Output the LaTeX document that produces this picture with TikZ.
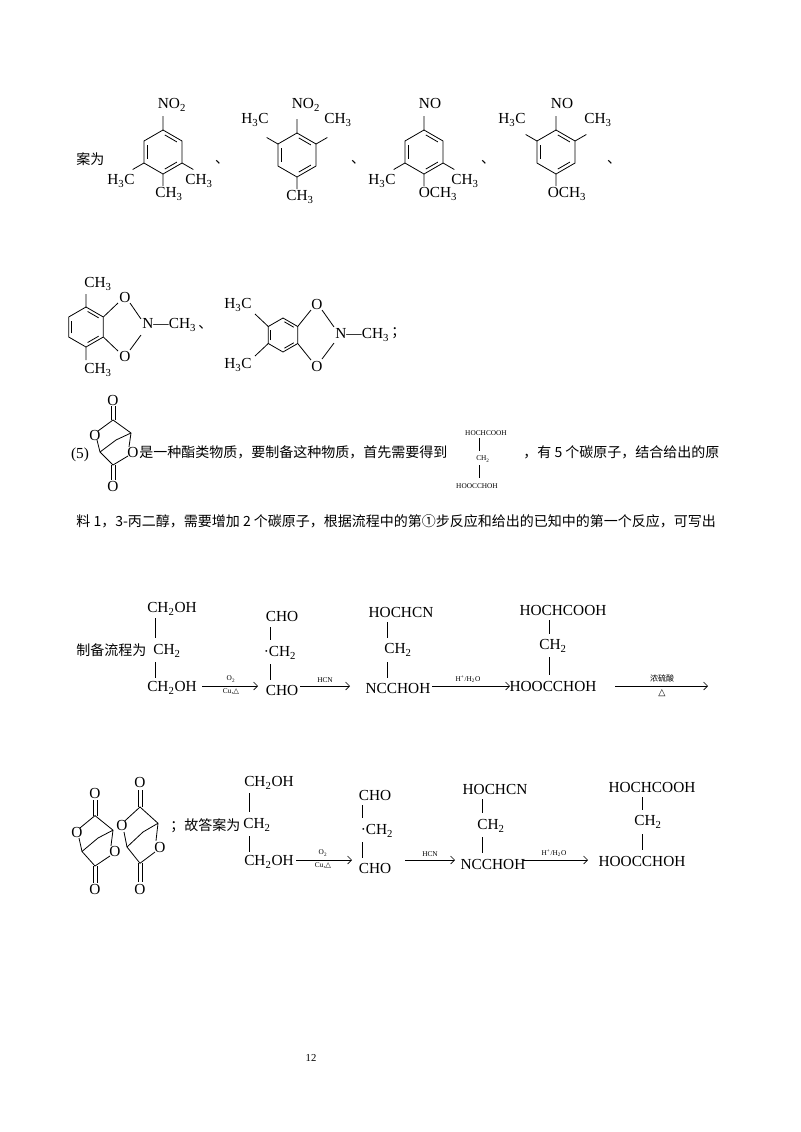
\documentclass[tikz,border=0pt]{standalone}
\usepackage{fontspec}
\setmainfont{Liberation Serif}
\newfontfamily\cjk{Noto Sans CJK SC}
\newfontfamily\dv{DejaVu Sans}
\usetikzlibrary{arrows.meta}
\newcommand\benz[3]{%
\begin{scope}[shift={(#1,#2)}]
\draw (90:#3)--(150:#3)--(210:#3)--(270:#3)--(330:#3)--(30:#3)--cycle;
\draw (36:{0.78*#3})--(84:{0.78*#3});
\draw (156:{0.78*#3})--(204:{0.78*#3});
\draw (276:{0.78*#3})--(324:{0.78*#3});
\end{scope}}
\newcommand\bicyc[4]{%
\begin{scope}[shift={(#1,#2)},xscale=#3,yscale=#4]
\coordinate (O1) at (0,-40); \coordinate (A) at (0,-20); \coordinate (B) at (18,-7);
\coordinate (C) at (-13,12); \coordinate (D) at (0,25); \coordinate (O2) at (0,46);
\coordinate (Oa) at (-18,-5); \coordinate (Ob) at (20,12); \coordinate (M) at (3,0);
\node[at=(O1),lab] {O}; \node[at=(O2),lab] {O};
\node[at=(Oa),lab] {O}; \node[at=(Ob),lab] {O};
\draw (-15,-9)--(A)--(B)--(16,7);
\draw (-2,-20)--(-2,-34) (2,-20)--(2,-34);
\draw (-2,25)--(-2,40) (2,25)--(2,40);
\draw (-16,0)--(C)--(D)--(15,16);
\draw (C)--(M)--(B);
\end{scope}}
\begin{document}
\begin{tikzpicture}[x=0.75pt,y=-0.75pt,line width=0.6pt,
  lab/.style={font=\fontsize{11.5}{13}\selectfont,inner sep=0},
  cn/.style={font=\cjk\fontsize{10.5}{12}\selectfont,inner sep=0},
  sm/.style={font=\fontsize{5.5}{6}\selectfont,inner sep=0},
  rx/.style={-{Straight Barb[length=3pt]},line width=0.5pt}]
\useasboundingbox[fill=white] (0,0) rectangle (800,1132);
% row 1
\node[cn,anchor=west] (t1) at (76,159) {案为};
\benz{163}{152}{22}
\begin{scope}[shift={(163,152)}]
\draw (270:22)--(270:36) (150:22)--(150:35) (90:22)--(90:34) (30:22)--(30:35);
\node[lab] at (9,-47) {NO\textsubscript{2}};
\node[lab] at (-42,29) {H\textsubscript{3}C};
\node[lab] at (6,42) {CH\textsubscript{3}};
\node[lab] at (36,29) {CH\textsubscript{3}};
\end{scope}
\node[cn] at (222,162) {、};
\benz{297}{155}{22}
\begin{scope}[shift={(297,155)}]
\draw (270:22)--(270:36) (210:22)--(210:35) (330:22)--(330:35) (90:22)--(90:34);
\node[lab] at (9,-50) {NO\textsubscript{2}};
\node[lab] at (-42,-35) {H\textsubscript{3}C};
\node[lab] at (41,-35) {CH\textsubscript{3}};
\node[lab] at (3,42) {CH\textsubscript{3}};
\end{scope}
\node[cn] at (358,162) {、};
\benz{424}{152}{22}
\begin{scope}[shift={(424,152)}]
\draw (270:22)--(270:36) (150:22)--(150:35) (90:22)--(90:34) (30:22)--(30:35);
\node[lab] at (6,-49) {NO};
\node[lab] at (-42,29) {H\textsubscript{3}C};
\node[lab] at (14,42) {OCH\textsubscript{3}};
\node[lab] at (41,29) {CH\textsubscript{3}};
\end{scope}
\node[cn] at (488,162) {、};
\benz{556}{152}{22}
\begin{scope}[shift={(556,152)}]
\draw (270:22)--(270:36) (210:22)--(210:35) (330:22)--(330:35) (90:22)--(90:34);
\node[lab] at (6,-49) {NO};
\node[lab] at (-44,-32) {H\textsubscript{3}C};
\node[lab] at (42,-32) {CH\textsubscript{3}};
\node[lab] at (11,42) {OCH\textsubscript{3}};
\end{scope}
\node[cn] at (614,162) {、};
% row 2
\benz{86}{327}{20}
\begin{scope}[shift={(86,327)}]
\draw (270:20)--(270:33) (90:20)--(90:33) (330:20)--(32,-24) (30:20)--(32,24);
\draw (44,-24)--(55,-8) (44,23)--(55,8);
\node[lab] at (12,-43) {CH\textsubscript{3}};
\node[lab] at (12,43) {CH\textsubscript{3}};
\node[lab] at (39,-30) {O};
\node[lab] at (39,29) {O};
\node[lab,anchor=west] at (56,-2) {N—CH\textsubscript{3}};
\node[cn,anchor=west] at (112,0) {、};
\end{scope}
\benz{283}{335}{17}
\begin{scope}[shift={(283,335)}]
\draw (210:17)--(-28,-21) (150:17)--(-28,21) (330:17)--(28,-25) (30:17)--(28,25);
\draw (39,-25)--(51,-8) (39,24)--(51,8);
\node[lab] at (-45,-30) {H\textsubscript{3}C};
\node[lab] at (-45,30) {H\textsubscript{3}C};
\node[lab] at (34,-31) {O};
\node[lab] at (34,31) {O};
\node[lab,anchor=west] at (52,0) {N—CH\textsubscript{3}};
\node[cn,anchor=west] at (108,-2) {；};
\end{scope}
% row 3
\bicyc{113}{440}{1}{1}
\node[lab] at (80,455) {(5)};
\node[cn,anchor=west] at (139,452) {是一种酯类物质，要制备这种物质，首先需要得到};
\node[sm] at (486,433) {HOCHCOOH};
\draw[line width=0.4pt] (479,438)--(479,451) (479,465)--(479,478);
\node[sm] at (483,459) {CH\textsubscript{2}};
\node[sm] at (477,486) {HOOCCHOH};
\node[cn,anchor=west] at (523,452) {，有 5 个碳原子，结合给出的原};
\node[cn,anchor=west] at (76,521) {料 1，3-丙二醇，需要增加 2 个碳原子，根据流程中的第①步反应和给出的已知中的第一个反应，可写出};
% scheme 1
\node[cn,anchor=west] at (76,650) {制备流程为};
\node[lab] at (172,609) {CH\textsubscript{2}OH};
\node[lab] at (167,651) {CH\textsubscript{2}};
\node[lab] at (172,688) {CH\textsubscript{2}OH};
\draw[line width=0.4pt] (155,618)--(155,638) (155,662)--(155,678);
\draw[rx] (202,686)--(258,686);
\node[sm] at (231,679) {O\textsubscript{2}};
\node[sm] at (231,692) {Cu,{\dv △}};
\node[lab] at (282,616) {CHO};
\node[lab] at (280,653) {·CH\textsubscript{2}};
\node[lab] at (282,690) {CHO};
\draw[line width=0.4pt] (270,627)--(270,640) (270,664)--(270,680);
\draw[rx] (300,686)--(350,686);
\node[sm] at (325,680) {HCN};
\node[lab] at (401,612) {HOCHCN};
\node[lab] at (398,650) {CH\textsubscript{2}};
\node[lab] at (398,688) {NCCHOH};
\draw[line width=0.4pt] (387,622)--(387,638) (387,662)--(387,678);
\draw[rx] (432,686)--(510,686);
\node[sm] at (468,679) {H\textsuperscript{+}/H\textsubscript{2}O};
\node[lab] at (563,610) {HOCHCOOH};
\node[lab] at (553,646) {CH\textsubscript{2}};
\node[lab] at (553,686) {HOOCCHOH};
\draw[line width=0.4pt] (549,620)--(549,634) (549,657)--(549,675);
\draw[rx] (615,686)--(708,686);
\node[cn,font=\cjk\fontsize{6}{7}\selectfont] at (662,678) {浓硫酸};
\node[inner sep=0,font=\dv\fontsize{7}{8}\selectfont] at (662,693) {△};
% scheme 2
\bicyc{95}{838}{1}{1.12}
\bicyc{140}{832}{1}{1.25}
\node[cn,anchor=west] at (170,826) {；故答案为};
\node[lab] at (269,783) {CH\textsubscript{2}OH};
\node[lab] at (257,825) {CH\textsubscript{2}};
\node[lab] at (269,862) {CH\textsubscript{2}OH};
\draw[line width=0.4pt] (249,793)--(249,812) (249,836)--(249,852);
\draw[rx] (296,860)--(352,860);
\node[sm] at (323,853) {O\textsubscript{2}};
\node[sm] at (323,866) {Cu,{\dv △}};
\node[lab] at (375,795) {CHO};
\node[lab] at (377,831) {·CH\textsubscript{2}};
\node[lab] at (375,868) {CHO};
\draw[line width=0.4pt] (362,805)--(362,818) (362,842)--(362,858);
\draw[rx] (405,860)--(455,860);
\node[sm] at (430,854) {HCN};
\node[lab] at (495,789) {HOCHCN};
\node[lab] at (491,826) {CH\textsubscript{2}};
\node[lab] at (493,864) {NCCHOH};
\draw[line width=0.4pt] (482,799)--(482,813) (482,837)--(482,853);
\draw[rx] (523,860)--(588,860);
\node[sm] at (554,853) {H\textsuperscript{+}/H\textsubscript{2}O};
\node[lab] at (652,787) {HOCHCOOH};
\node[lab] at (648,822) {CH\textsubscript{2}};
\node[lab] at (642,861) {HOOCCHOH};
\draw[line width=0.4pt] (642,797)--(642,810) (642,834)--(642,850);
\node[lab,font=\fontsize{8}{9}\selectfont] at (311,1058) {12};
\end{tikzpicture}
\end{document}
